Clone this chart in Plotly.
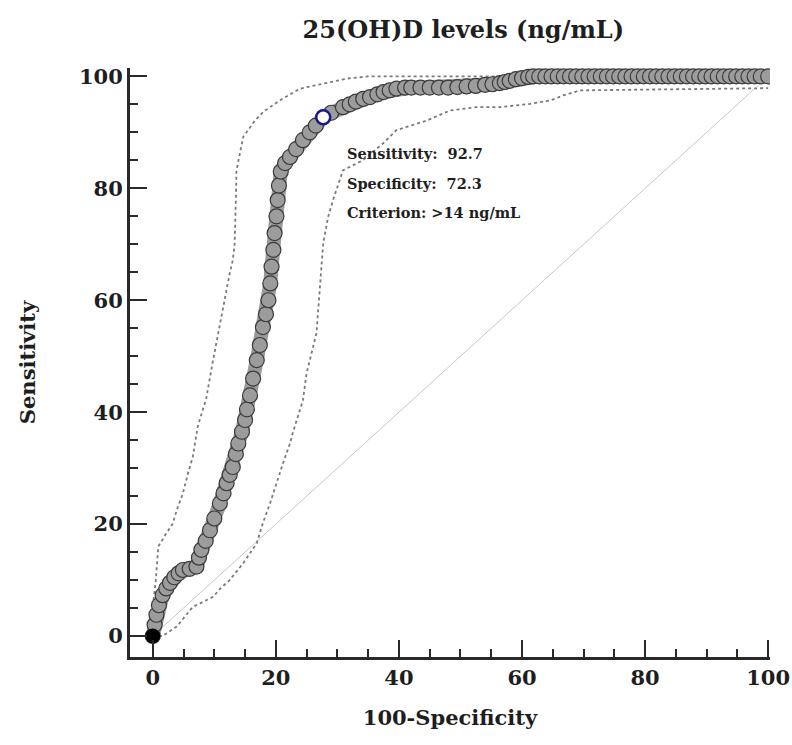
import plotly.graph_objects as go

# ROC curve points (100-Specificity, Sensitivity)
roc_x = [0, 0.3, 0.6, 1.0, 1.6, 2.2, 2.8, 3.5, 4.2, 4.9, 6.0, 7.1, 7.5, 7.9, 8.6, 9.3, 10.0, 10.9,
         11.5, 12.0, 12.5, 13.0, 13.5, 13.9, 14.5, 15.0, 15.3, 15.8, 16.3, 16.9, 17.4, 17.9, 18.4,
         18.8, 19.1, 19.3, 19.6, 19.8, 20.1, 20.3, 20.5, 20.8, 21.5, 22.3, 23.3, 24.4, 25.5, 26.5,
         27.7, 29.0, 30.9, 32.0, 33.0, 34.2, 35.3, 36.5, 37.5, 38.5, 39.6, 41.0, 42.0, 43.5, 45.0,
         46.5, 48.0, 49.5, 51.0, 52.5, 54.0, 55.2, 56.4, 57.2, 58.0, 59.0, 60.0, 61.0, 61.8, 62.8,
         63.8, 64.8, 65.8, 66.8, 67.8, 68.8, 69.8, 70.8, 71.8, 72.8, 73.8, 74.8, 75.8, 76.8, 77.8,
         78.8, 79.8, 80.8, 81.8, 82.8, 83.8, 84.8, 85.8, 86.8, 87.8, 88.8, 89.8, 90.8, 91.8, 92.8,
         93.8, 94.8, 95.8, 96.8, 97.8, 98.8, 100.0]
roc_y = [0, 2.0, 3.8, 5.5, 7.3, 8.5, 9.5, 10.5, 11.2, 11.8, 12.0, 12.4, 14.0, 15.4, 17.0, 18.9, 21.0, 23.7,
         25.5, 27.3, 28.8, 30.2, 32.5, 34.4, 36.5, 38.6, 40.5, 43.0, 46.0, 49.3, 52.0, 55.2, 57.5,
         60.0, 63.0, 66.0, 69.0, 72.0, 75.0, 77.9, 80.5, 83.0, 84.5, 85.6, 87.0, 88.6, 90.0, 91.2,
         92.7, 93.5, 94.5, 95.0, 95.5, 96.0, 96.3, 96.8, 97.2, 97.5, 97.8, 98.0, 98.0, 98.0, 98.0,
         98.0, 98.0, 98.1, 98.2, 98.3, 98.5, 98.6, 98.8, 99.0, 99.2, 99.5, 99.7, 99.9, 100, 100,
         100, 100, 100, 100, 100, 100, 100, 100, 100, 100, 100, 100, 100, 100, 100,
         100, 100, 100, 100, 100, 100, 100, 100, 100, 100, 100, 100, 100, 100, 100,
         100, 100, 100, 100, 100, 100, 100]

# Upper 95% confidence bound
upper_x = [0, 0, 0.5, 0.9, 2.0, 3.2, 3.9, 4.9, 5.7, 6.5, 7.3, 8.7, 9.8, 10.6, 11.4, 12.5, 13.0,
           13.3, 13.5, 13.6, 14.7, 16.6, 17.9, 20.6, 23.9, 27.7, 31.5, 35.0, 100]
upper_y = [0, 5.2, 10.0, 16.0, 18.0, 20.0, 22.5, 25.5, 29.0, 32.0, 37.4, 42.5, 49.3, 54.0, 58.8,
           64.8, 67.1, 70.0, 77.9, 83.2, 89.2, 92.1, 93.6, 95.7, 97.8, 98.7, 99.6, 100, 100]

# Lower 95% confidence bound
lower_x = [0, 1.6, 3.9, 5.2, 6.5, 9.8, 11.0, 12.5, 14.7, 16.9, 17.9, 19.0, 20.1, 21.2, 22.3, 22.8,
           24.4, 25.0, 26.6, 27.2, 27.7, 28.5, 29.3, 30.9, 34.1, 37.4, 39.6, 44.5, 48.3, 52.6,
           56.4, 61.3, 64.6, 66.7, 69.4, 100]
lower_y = [0, 0, 1.7, 3.5, 5.2, 7.0, 8.5, 10.0, 13.0, 16.6, 20.2, 23.5, 27.3, 31.0, 34.4, 36.5,
           42.1, 47.0, 54.1, 63.0, 70.2, 74.9, 77.9, 83.2, 85.0, 88.0, 90.4, 92.1, 93.9, 94.5,
           94.5, 95.1, 95.7, 96.6, 97.5, 97.9]

diag_x = [0, 100]
diag_y = [0, 100]

crit_x = [27.7]
crit_y = [92.7]

x_ticks = [0, 20, 40, 60, 80, 100]
y_ticks = [0, 20, 40, 60, 80, 100]

ann_lines = ["Sensitivity:  92.7", "Specificity:  72.3", "Criterion: >14 ng/mL"]

FONT = "DejaVu Serif"
DARK = "#1e1e1e"

fig = go.Figure()
fig.add_trace(go.Scatter(x=diag_x, y=diag_y, mode="lines",
                         line=dict(color="#c8c8c8", width=1), hoverinfo="skip"))
fig.add_trace(go.Scatter(x=upper_x, y=upper_y, mode="lines",
                         line=dict(color="#7a7a7a", width=1.8, dash="dot")))
fig.add_trace(go.Scatter(x=lower_x, y=lower_y, mode="lines",
                         line=dict(color="#7a7a7a", width=1.8, dash="dot")))
fig.add_trace(go.Scatter(x=roc_x, y=roc_y, mode="lines",
                         line=dict(color="#9a9a9a", width=14)))
fig.add_trace(go.Scatter(x=roc_x, y=roc_y, mode="markers",
                         marker=dict(size=15, color="#9c9c9c",
                                     line=dict(color="#3a3a3a", width=1.2))))
fig.add_trace(go.Scatter(x=roc_x[:1], y=roc_y[:1], mode="markers",
                         marker=dict(size=15, color="#000000")))
fig.add_trace(go.Scatter(x=crit_x, y=crit_y, mode="markers",
                         marker=dict(size=14, color="white",
                                     line=dict(color="#1a1a8c", width=2.5))))

for i, t in enumerate(ann_lines):
    fig.add_annotation(x=31.2, y=86.3 - i * 5.35, xref="x", yref="y", text=t,
                       showarrow=False, xanchor="left", yanchor="middle",
                       font=dict(family=FONT, size=14.5, color=DARK, weight="bold"))

axis_common = dict(showline=True, linewidth=3, linecolor="#2a2a2a", mirror=False,
                   showgrid=False, zeroline=False, ticks="inside", ticklen=17,
                   tickwidth=2, tickcolor="#2a2a2a", automargin=False,
                   tickfont=dict(family=FONT, size=21, color=DARK, weight="bold"),
                   minor=dict(ticks="inside", ticklen=8, tickwidth=2, tickcolor="#2a2a2a", dtick=5))

fig.update_layout(
    width=792, height=745,
    margin=dict(l=130, r=22, t=68, b=88),
    plot_bgcolor="white", paper_bgcolor="white",
    showlegend=False,
    title=dict(text="25(OH)D levels (ng/mL)", xref="container", x=0.585,
               y=1 - 30 / 745, xanchor="center", yanchor="middle",
               font=dict(family=FONT, size=24, color=DARK, weight="bold")),
    xaxis=dict(range=[-3.7, 100.3], tickvals=x_ticks,
               title=dict(text="100-Specificity", standoff=22,
                          font=dict(family=FONT, size=21, color=DARK, weight="bold")),
               **axis_common),
    yaxis=dict(range=[-3.75, 101.5], tickvals=y_ticks,
               title=dict(text="Sensitivity", standoff=38,
                          font=dict(family=FONT, size=21, color=DARK, weight="bold")),
               **axis_common),
)
fig.write_html("out.html")
